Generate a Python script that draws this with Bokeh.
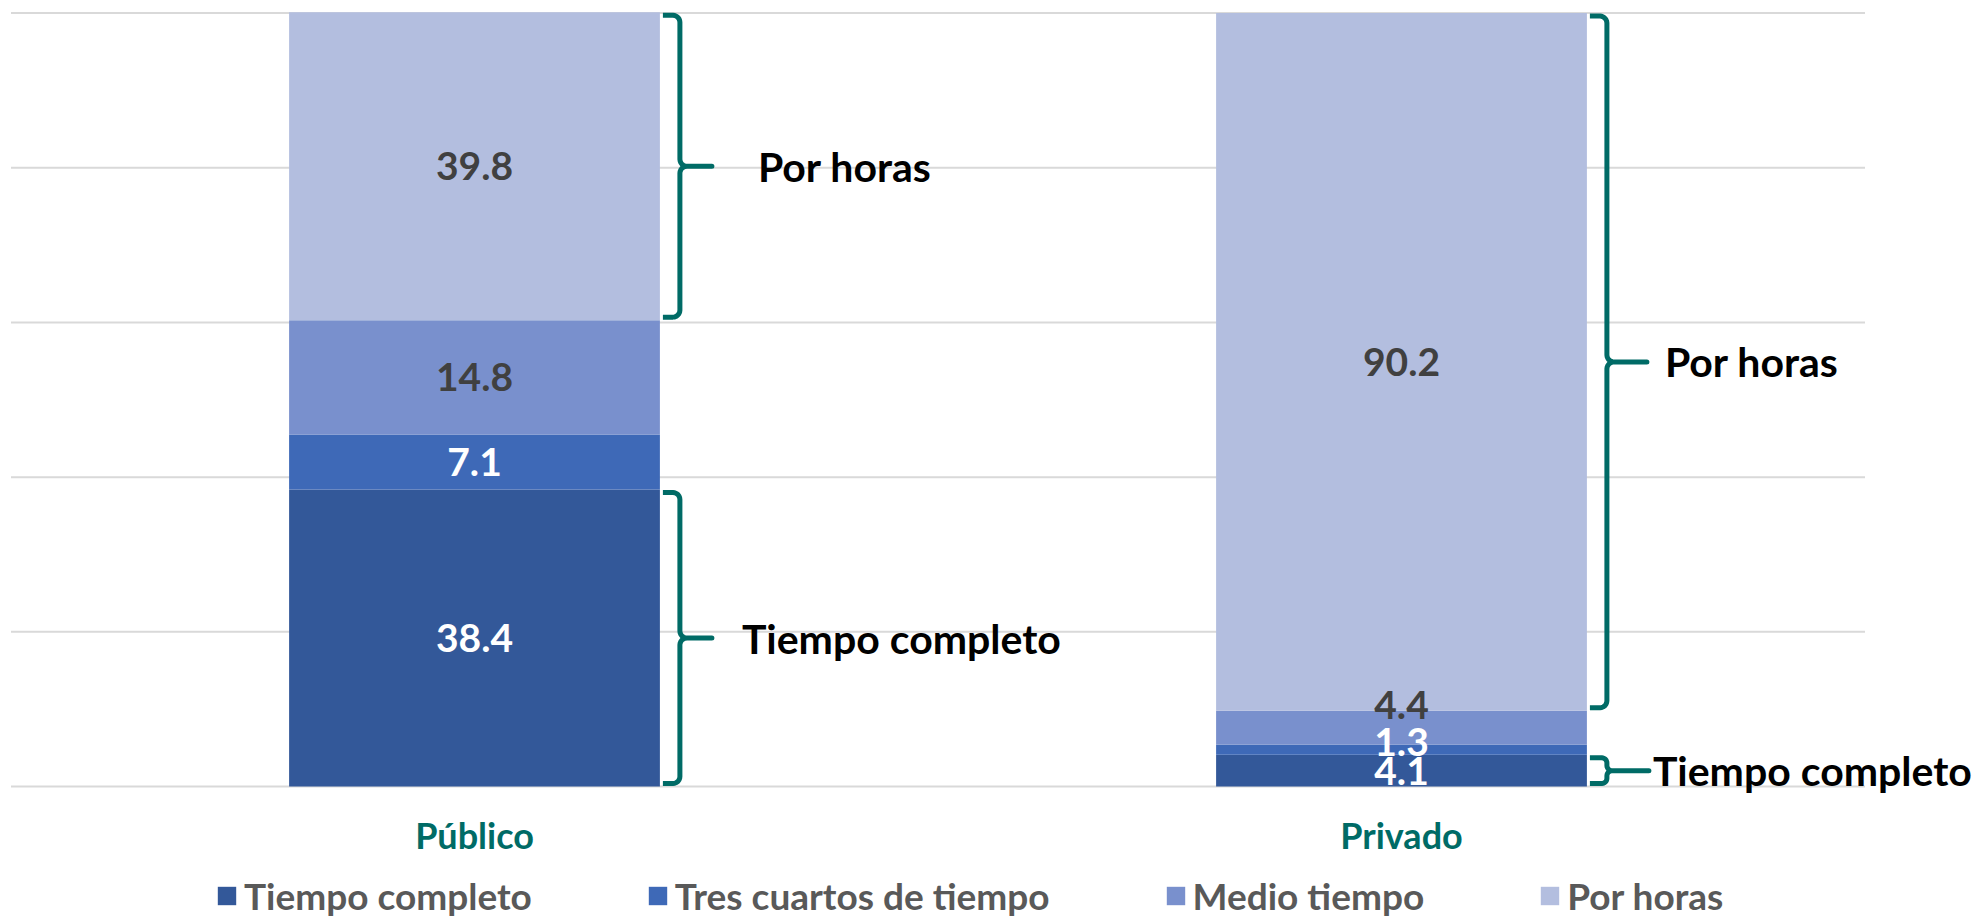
import math
from bokeh.plotting import figure
from bokeh.models import Range1d, Legend, LegendItem
from bokeh.core.properties import value
from bokeh.embed import file_html
from bokeh.resources import INLINE

# ---------------- data ----------------
categories = ["Público", "Privado"]
series_names = ["Tiempo completo", "Tres cuartos de tiempo", "Medio tiempo", "Por horas"]
tiempo_completo = [38.4, 4.1]
tres_cuartos = [7.1, 1.3]
medio_tiempo = [14.8, 4.4]
por_horas = [39.8, 90.2]
y_ticks = [0, 20, 40, 60, 80, 100]

# bracket annotations: (category index, first series, last series, text)
bracket_cat = [0, 0, 1, 1]
bracket_from = [3, 0, 3, 0]
bracket_to = [3, 0, 3, 0]
bracket_text = ["Por horas", "Tiempo completo", "Por horas", "Tiempo completo"]

# ---------------- style ----------------
colors = ["#335899", "#3E69B7", "#7990CD", "#B3BEDF"]
label_colors = ["#FFFFFF", "#FFFFFF", "#404040", "#404040"]
TEAL = "#006B66"
FONT = "Lato"
W, H = 1979, 918
PX_X = 927.0          # pixels per category step
PX_Y = 7.734          # pixels per value unit
X0_PX = 474.0         # frame left -> first category centre
Y0_PX = 786.0         # frame top -> value 0
X_START = -X0_PX / PX_X
X_END = X_START + W / PX_X
Y_END = Y0_PX / PX_Y
Y_START = Y_END - H / PX_Y
DXP = 1.0 / PX_X
DYP = 1.0 / PX_Y
BAR_W = 0.4
GRID_X = (-0.5, 1.5)
CAT_LABEL_PX = 48
label_nudge_px = [[0, 0, 0, 0], [0, 8, 23, 0]]
tick_len_px = [32, 32, 40, 42]
text_gap_px = [46, 30, 18, 4]

series = [tiempo_completo, tres_cuartos, medio_tiempo, por_horas]
xs = list(range(len(categories)))

p = figure(width=W, height=H, x_range=Range1d(X_START, X_END), y_range=Range1d(Y_START, Y_END),
           output_backend="svg", toolbar_location=None, x_axis_type=None, y_axis_type=None,
           min_border_left=0, min_border_right=0, min_border_top=0, min_border_bottom=0)
p.outline_line_color = None
p.grid.visible = False
p.background_fill_color = "white"
p.border_fill_color = "white"

# value gridlines
p.segment(x0=[GRID_X[0]] * len(y_ticks), x1=[GRID_X[1]] * len(y_ticks), y0=y_ticks, y1=y_ticks,
          line_color="#D9D9D9", line_width=2)

# stacked bars
bottoms = [0.0] * len(categories)
renderers = []
lab_x, lab_y, lab_t, lab_c = [], [], [], []
for si, vals in enumerate(series):
    tops = [b + v for b, v in zip(bottoms, vals)]
    r = p.vbar(x=xs, bottom=bottoms, top=tops, width=BAR_W,
               fill_color=colors[si], line_color=None)
    renderers.append(r)
    for ci in xs:
        lab_x.append(ci)
        lab_y.append((bottoms[ci] + tops[ci]) / 2 + label_nudge_px[ci][si] * DYP)
        lab_t.append(f"{vals[ci]:.1f}")
        lab_c.append(label_colors[si])
    bottoms = tops

p.text(x=lab_x, y=lab_y, text=lab_t, text_color=lab_c,
       text_font=value(FONT), text_font_style="bold", text_font_size="39px",
       text_align="center", text_baseline="middle")

# category labels
p.text(x=xs, y=[-CAT_LABEL_PX * DYP] * len(xs), text=categories, text_color=TEAL,
       text_font=value(FONT), text_font_style="bold", text_font_size="36px",
       text_align="center", text_baseline="middle")

# brackets
def arc(cx, cy, r, a0, a1, n=6):
    pts = []
    for k in range(n + 1):
        a = math.radians(a0 + (a1 - a0) * k / n)
        pts.append((cx + r * math.cos(a), cy + r * math.sin(a)))
    return pts

bx_all, by_all = [], []
bl_x, bl_y, bl_t = [], [], []
for bi, ci in enumerate(bracket_cat):
    lo = sum(series[s][ci] for s in range(bracket_from[bi]))
    hi = sum(series[s][ci] for s in range(bracket_to[bi] + 1))
    x0 = 3
    xl = 20
    yt = hi / DYP - 3
    yb = lo / DYP + 3
    ym = (lo + hi) / 2 / DYP
    r = min(7, (yt - yb) / 5)
    pts = [(x0, yt)]
    pts += arc(xl - r, yt - r, r, 90, 0)
    pts += arc(xl + r, ym + r, r, 180, 270)
    pts += [(xl + tick_len_px[bi], ym), (xl + r, ym)]
    pts += arc(xl + r, ym - r, r, 90, 180)
    pts += arc(xl - r, yb + r, r, 0, -90)
    pts += [(x0, yb)]
    cx = ci + BAR_W / 2
    bx_all.append([cx + px * DXP for px, _ in pts])
    by_all.append([py * DYP for _, py in pts])
    bl_x.append(cx + (xl + tick_len_px[bi] + text_gap_px[bi]) * DXP)
    bl_y.append(ym * DYP)
    bl_t.append(bracket_text[bi])

p.multi_line(xs=bx_all, ys=by_all, line_color=TEAL, line_width=5, line_join="round")
p.text(x=bl_x, y=bl_y, text=bl_t, text_color="black",
       text_font=value(FONT), text_font_style="bold", text_font_size="41px",
       text_align="left", text_baseline="middle")

legend = Legend(items=[LegendItem(label=n, renderers=[r]) for n, r in zip(series_names, renderers)],
                orientation="horizontal", location=(215, 0),
                label_text_font=FONT, label_text_font_style="bold", label_text_font_size="37px",
                label_text_color="#595959", glyph_width=23, glyph_height=23,
                label_standoff=6, spacing=114, padding=0, margin=0,
                border_line_color=None, background_fill_alpha=0)
p.add_layout(legend)

open("out.html", "w").write(file_html(p, INLINE))
